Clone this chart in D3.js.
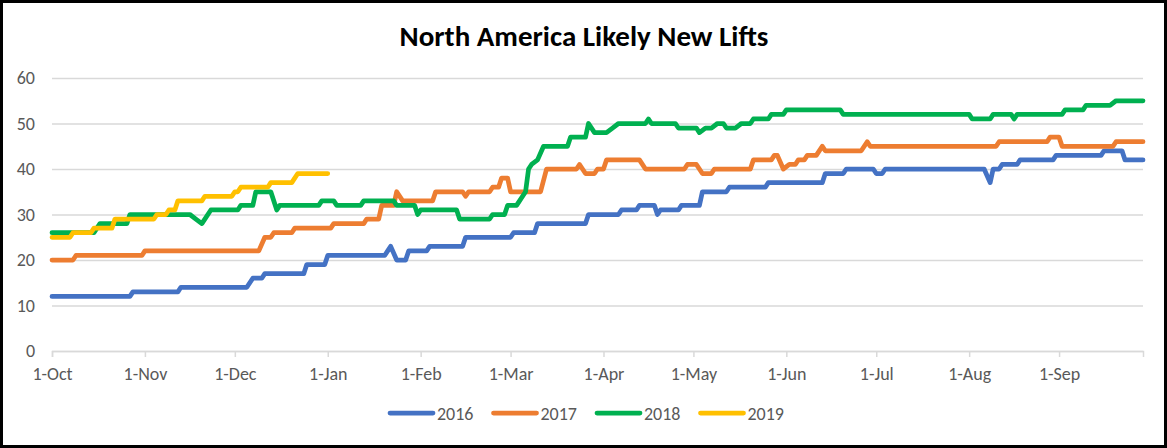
<!DOCTYPE html>
<html>
<head>
<title>North America Likely New Lifts</title>
<style>
body { margin: 0; background: #fff; }
</style>
</head>
<body>

<div id="chart"></div>

<script src="https://d3js.org/d3.v7.min.js"></script>
<script>
const width = 1167;
const height = 448;

// day of season (0 = 1-Oct), value
const years = ["2016", "2017", "2018", "2019"];
const colors = ["#4472C4", "#ED7D31", "#00B050", "#FFC000"];

const s2016 = [[0,12],[26,12],[27,13],[42,13],[43,14],[65,14],[66,15],[67,16],[70,16],[71,17],[84,17],[85,19],[91,19],[92,21],
  [111,21],[112,22],[113,23],[115,20],[118,20],[119,22],[125,22],[126,23],[137,23],[138,25],[153,25],[154,26],[161,26],[162,28],
  [178,28],[179,30],[189,30],[190,31],[195,31],[196,32],[201,32],[202,30],[203,31],[209,31],[210,32],[216,32],[217,35],[225,35],
  [226,36],[238,36],[239,37],[257,37],[258,39],[264,39],[265,40],[274,40],[275,39],[277,39],[278,40],[311,40],[313,37],[314,40],
  [316,40],[317,41],[322,41],[323,42],[334,42],[335,43],[350,43],[351,44],[357,44],[358,42],[364,42]];

const s2017 = [[0,20],[7,20],[8,21],[30,21],[31,22],[69,22],[71,25],[73,25],[74,26],[80,26],[81,27],[93,27],[94,28],[104,28],
  [105,29],[109,29],[110,32],[114,32],[115,35],[117,33],[127,33],[128,35],[137,35],[138,34],[139,35],[146,35],[147,36],[149,36],
  [150,38],[152,38],[153,35],[163,35],[165,40],[175,40],[176,41],[178,39],[181,39],[182,40],[184,40],[185,42],[196,42],[198,40],
  [211,40],[212,41],[215,41],[217,39],[220,39],[221,40],[233,40],[234,42],[240,42],[241,43],[242,43],[244,40],[246,41],[248,41],
  [249,42],[251,42],[252,43],[255,43],[257,45],[258,44],[270,44],[272,46],[273,45],[315,45],[316,46],[332,46],[333,47],[336,47],
  [337,45],[354,45],[355,46],[364,46]];

const s2018 = [[0,26],[14,26],[15,27],[16,28],[25,28],[26,30],[46,30],[48,29],[50,28],[53,31],[62,31],[63,32],[67,32],[68,35],
  [73,35],[75,31],[76,32],[89,32],[90,33],[94,33],[95,32],[103,32],[104,33],[114,33],[115,32],[121,32],[122,30],[123,31],[135,31],
  [136,29],[146,29],[147,30],[151,30],[152,32],[155,32],[158,35],[159,40],[160,41],[162,42],[164,45],[172,45],[173,47],[178,47],
  [179,50],[181,48],[185,48],[187,49],[189,50],[198,50],[199,51],[200,50],[208,50],[209,49],[215,49],[216,48],[218,49],[220,49],
  [222,50],[224,50],[225,49],[228,49],[230,50],[233,50],[234,51],[239,51],[240,52],[244,52],[245,53],[263,53],[264,52],[306,52],
  [307,51],[313,51],[314,52],[320,52],[321,51],[322,52],[337,52],[338,53],[344,53],[345,54],[353,54],[355,55],[364,55]];

const s2019 = [[0,25],[6,25],[7,26],[13,26],[14,27],[20,27],[21,29],[34,29],[35,30],[38,30],[39,31],[41,31],[42,33],[50,33],
  [51,34],[60,34],[61,35],[62,35],[63,36],[72,36],[73,37],[80,37],[82,39],[92,39]];

const seriesData = [s2016, s2017, s2018, s2019];

const tickDays = [0, 31, 61, 92, 123, 153, 184, 214, 245, 275, 306, 336];
const tickLabels = ["1-Oct", "1-Nov", "1-Dec", "1-Jan", "1-Feb", "1-Mar", "1-Apr", "1-May", "1-Jun", "1-Jul", "1-Aug", "1-Sep"];
const yTicks = [0, 10, 20, 30, 40, 50, 60];

const font = "Calibri, Carlito, 'Liberation Sans', sans-serif";

const svg = d3.select("#chart")
  .append("svg")
  .attr("width", width)
  .attr("height", height);

svg.append("rect")
  .attr("x", 1.5)
  .attr("y", 1.5)
  .attr("width", width - 3)
  .attr("height", height - 3)
  .attr("fill", "#fff")
  .attr("stroke", "#000")
  .attr("stroke-width", 3);

const x = d3.scaleLinear().domain([0, 364]).range([52, 1143]);
const y = d3.scaleLinear().domain([0, 60]).range([351, 78]);

// title
svg.append("text")
  .attr("x", 584)
  .attr("y", 46)
  .attr("text-anchor", "middle")
  .attr("font-family", font)
  .attr("font-size", 29)
  .attr("font-weight", "bold")
  .attr("fill", "#000")
  .text("North America Likely New Lifts");

// gridlines + y labels
const yAxis = svg.append("g")
  .attr("transform", "translate(52,0)")
  .call(d3.axisLeft(y).tickValues(yTicks).tickSize(-(1143 - 52)).tickPadding(17));
yAxis.select(".domain").remove();
yAxis.selectAll("line").attr("stroke", "#d9d9d9").attr("stroke-width", 1.5);
yAxis.selectAll("text")
  .attr("font-family", font)
  .attr("font-size", 18)
  .attr("fill", "#595959");

// x axis
const xAxis = svg.append("g")
  .attr("transform", "translate(0,351)")
  .call(d3.axisBottom(x).tickValues(tickDays).tickFormat((d, i) => tickLabels[i]).tickSize(6).tickPadding(10));
xAxis.select(".domain").attr("stroke", "#d9d9d9").attr("stroke-width", 1.5);
xAxis.selectAll("line").attr("stroke", "#d9d9d9").attr("stroke-width", 1.5);
xAxis.selectAll("text")
  .attr("font-family", font)
  .attr("font-size", 18)
  .attr("fill", "#595959");

// lines
const line = d3.line()
  .x(d => x(d[0]))
  .y(d => y(d[1]));

seriesData.forEach((data, i) => {
  svg.append("path")
    .datum(data)
    .attr("d", line)
    .attr("fill", "none")
    .attr("stroke", colors[i])
    .attr("stroke-width", 4.75)
    .attr("stroke-linejoin", "round")
    .attr("stroke-linecap", "round");
});

// legend
const legend = svg.append("g").attr("transform", "translate(390,413)");
years.forEach((yr, i) => {
  const g = legend.append("g").attr("transform", `translate(${i * 103.5},0)`);
  g.append("line")
    .attr("x1", 0).attr("x2", 43)
    .attr("y1", 0).attr("y2", 0)
    .attr("stroke", colors[i])
    .attr("stroke-width", 4.75)
    .attr("stroke-linecap", "round");
  g.append("text")
    .attr("x", 47)
    .attr("y", 6.5)
    .attr("font-family", font)
    .attr("font-size", 18)
    .attr("fill", "#595959")
    .text(yr);
});
</script>

</body>
</html>
